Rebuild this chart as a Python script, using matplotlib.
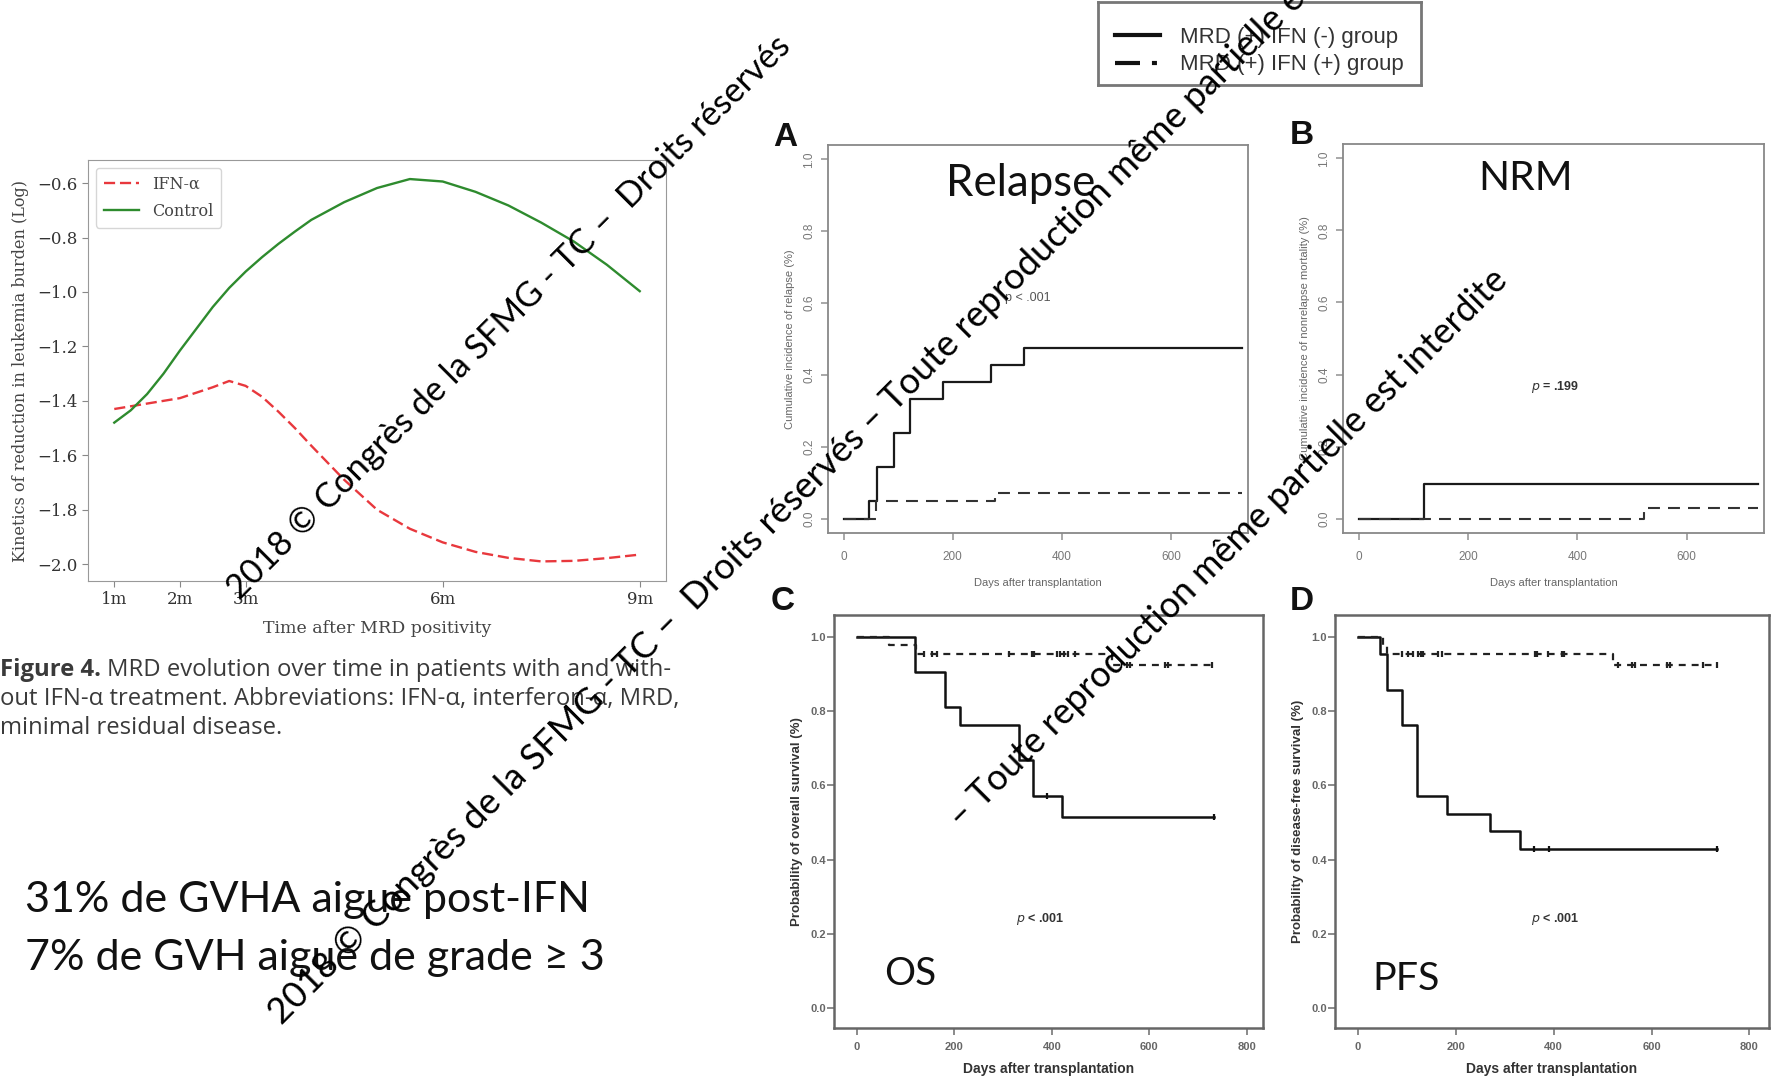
import numpy as np
import matplotlib
matplotlib.use("Agg")
import matplotlib.pyplot as plt
from matplotlib.lines import Line2D

plt.rcParams["lines.scale_dashes"] = False
plt.rcParams["font.family"] = ["Liberation Sans", "DejaVu Sans"]

# ---- left chart: MRD kinetics ----
months = [1.0, 1.25, 1.5, 1.75, 2.0, 2.25, 2.5, 2.75, 3.0, 3.25, 3.5, 3.75, 4.0,
          4.5, 5.0, 5.5, 6.0, 6.5, 7.0, 7.5, 8.0, 8.5, 9.0]
ifn_kinetics = [-1.43, -1.42, -1.41, -1.40, -1.39, -1.37, -1.35, -1.327, -1.345, -1.385,
                -1.44, -1.50, -1.565, -1.69, -1.80, -1.87, -1.92, -1.955, -1.977, -1.99,
                -1.988, -1.978, -1.965]
control_kinetics = [-1.48, -1.435, -1.375, -1.30, -1.215, -1.135, -1.055, -0.985, -0.925,
                    -0.872, -0.823, -0.778, -0.735, -0.67, -0.618, -0.585, -0.594, -0.632,
                    -0.682, -0.745, -0.815, -0.90, -0.997]
month_ticks = [1, 2, 3, 6, 9]
month_labels = ["1m", "2m", "3m", "6m", "9m"]
kin_ticks = [-2.0, -1.8, -1.6, -1.4, -1.2, -1.0, -0.8, -0.6]

# ---- Kaplan-Meier / cumulative incidence panels ----
# A: relapse
relapse_neg_t = [0, 47, 62, 93, 122, 183, 270, 330, 730]
relapse_neg_y = [0, 0.048, 0.143, 0.238, 0.333, 0.381, 0.429, 0.476, 0.476]
relapse_pos_t = [0, 60, 278, 730]
relapse_pos_y = [0, 0.048, 0.071, 0.071]
# B: non relapse mortality
nrm_neg_t = [0, 120, 730]
nrm_neg_y = [0, 0.095, 0.095]
nrm_pos_t = [0, 522, 730]
nrm_pos_y = [0, 0.03, 0.03]
# C: overall survival
os_neg_t = [0, 120, 181, 211, 332, 362, 420, 732]
os_neg_y = [1, 0.905, 0.810, 0.762, 0.667, 0.571, 0.514, 0.514]
os_neg_cens = [390, 732]
os_pos_t = [0, 65, 122, 523, 730]
os_pos_y = [1, 0.976, 0.952, 0.924, 0.924]
os_pos_cens = [137, 154, 164, 311, 359, 364, 410, 417, 425, 434, 448, 554, 561, 632, 639, 728]
# D: progression free survival
pfs_neg_t = [0, 44, 60, 89, 120, 181, 270, 331, 733]
pfs_neg_y = [1, 0.952, 0.857, 0.762, 0.571, 0.524, 0.476, 0.429, 0.429]
pfs_neg_cens = [360, 391, 733]
pfs_pos_t = [0, 52, 60, 522, 734]
pfs_pos_y = [1, 0.976, 0.952, 0.924, 0.924]
pfs_pos_cens = [89, 102, 113, 123, 128, 133, 164, 171, 362, 365, 389, 417, 422,
                532, 560, 567, 631, 638, 706, 734]

W, H = 1771, 1079
fig = plt.figure(figsize=(W / 100, H / 100), dpi=100)
renderer = fig.canvas.get_renderer()


def box(l, t, r, b):
    return [l / W, 1 - b / H, (r - l) / W, (b - t) / H]


def fx(x):
    return x / W


def fy(y):
    return 1 - y / H


def fit(txt, width):
    w = txt.get_window_extent(renderer).width
    txt.set_fontsize(txt.get_fontsize() * width / w)
    return txt.get_fontsize()


# ---------------- left chart ----------------
serif = "DejaVu Serif"
ax = fig.add_axes(box(88, 160, 666, 581))
ax.plot(months, ifn_kinetics, ls=(0, (8, 3.5)), color="#e8383d", lw=1.7, label="IFN-α")
ax.plot(months, control_kinetics, color="#2e8b2e", lw=1.7, label="Control")
ax.set_xlim(0.6, 9.4)
ax.set_ylim(-2.062, -0.515)
ax.set_xticks(month_ticks, month_labels, fontfamily=serif, fontsize=12, color="#333")
ax.set_yticks(kin_ticks, [f"{v:.1f}".replace("-", "\u2212") for v in kin_ticks],
              fontfamily=serif, fontsize=12, color="#333")
ax.tick_params(colors="#888", labelcolor="#333", length=4)
for s in ax.spines.values():
    s.set_color("#999")
ax.set_ylabel("Kinetics of reduction in leukemia burden (Log)", fontfamily=serif,
              fontsize=11.5, color="#444", labelpad=6)
ax.set_xlabel("Time after MRD positivity", fontfamily=serif, fontsize=12.5, color="#444",
              labelpad=8)
leg = ax.legend(loc="upper left", prop={"family": serif, "size": 11.5}, handlelength=2.2,
                borderpad=0.5, labelspacing=0.6)
leg.get_frame().set_edgecolor("#ccc")
for t in leg.get_texts():
    t.set_color("#444")

# caption
cap_lines = ["MRD evolution over time in patients with and with-",
             "out IFN-\u03b1 treatment. Abbreviations: IFN-\u03b1, interferon-\u03b1, MRD,",
             "minimal residual disease."]
c2 = fig.text(0, fy(699), cap_lines[1], fontfamily="Open Sans", fontsize=14, color="#3a3a3a",
              va="center", ha="left")
cap_size = fit(c2, 682)
c1b = fig.text(0, fy(670), "Figure 4.", fontfamily="Open Sans", fontweight="bold",
               fontsize=cap_size, color="#3a3a3a", va="center", ha="left")
bw = c1b.get_window_extent(renderer).width
fig.text(fx(bw + 6), fy(670), cap_lines[0], fontfamily="Open Sans", fontsize=cap_size,
         color="#3a3a3a", va="center", ha="left")
fig.text(0, fy(728), cap_lines[2], fontfamily="Open Sans", fontsize=cap_size, color="#3a3a3a",
         va="center", ha="left")

# bottom statements
calibri = ["Lato", "DejaVu Sans"]
b1 = fig.text(fx(25), fy(900), "31% de GVHA aigue post-IFN", fontfamily=calibri, fontsize=28,
              color="#111", va="center", ha="left")
bsize = fit(b1, 566)
fig.text(fx(25), fy(958), "7% de GVH aigue de grade \u2265 3", fontfamily=calibri,
         fontsize=bsize, color="#111", va="center", ha="left")


# ---------------- KM panels ----------------
def censor_y(t, y, ct):
    idx = np.searchsorted(t, ct, side="right") - 1
    return np.asarray(y)[idx]


def r_panel(rect, ylabel):
    a = fig.add_axes(rect)
    a.set_xlim(-28.5, 741.5)
    a.set_ylim(-0.04, 1.04)
    a.set_xticks([0, 200, 400, 600], ["0", "200", "400", "600"], fontsize=8.5, color="#777")
    yt = [0, 0.2, 0.4, 0.6, 0.8, 1.0]
    a.set_yticks(yt, [f"{v:.1f}" for v in yt], fontsize=8.5, color="#777", rotation=90,
                 va="center")
    a.tick_params(colors="#999", labelcolor="#777", length=5, width=1.2, pad=4)
    a.tick_params(axis="x", pad=8)
    for s in a.spines.values():
        s.set_color("#888")
        s.set_linewidth(1.3)
    a.set_ylabel(ylabel, fontsize=8, color="#666", labelpad=6)
    a.set_xlabel("Days after transplantation", fontsize=8, color="#666", labelpad=11)
    return a


def spss_panel(rect, ylabel, xmax):
    a = fig.add_axes(rect)
    a.set_xlim(-47, xmax)
    a.set_ylim(-0.053, 1.058)
    a.set_xticks([0, 200, 400, 600, 800], ["0", "200", "400", "600", "800"], fontsize=8,
                 fontweight="bold", color="#666")
    yt = [0, 0.2, 0.4, 0.6, 0.8, 1.0]
    a.set_yticks(yt, [f"{v:.1f}" for v in yt], fontsize=8, fontweight="bold", color="#666")
    a.tick_params(colors="#777", labelcolor="#666", length=5, width=1.2, pad=1)
    a.tick_params(axis="x", pad=5)
    for s in a.spines.values():
        s.set_color("#666")
        s.set_linewidth(1.8)
    a.set_ylabel(ylabel, fontsize=9.5, fontweight="bold", color="#333", labelpad=5)
    a.set_xlabel("Days after transplantation", fontsize=10, fontweight="bold", color="#333",
                 labelpad=7)
    return a


axA = r_panel(box(828, 145, 1248, 533), "Cumulative incidence of relapse (%)")
axA.step(relapse_neg_t, relapse_neg_y, where="post", color="#1a1a1a", lw=1.6)
axA.step(relapse_pos_t, relapse_pos_y, where="post", color="#333", lw=1.5, ls=(0, (8.6, 5.8)))
axA.text(337, 0.613, "p < .001", fontsize=9, color="#555", ha="center", va="center")

axB = r_panel(box(1343, 144, 1764, 533), "Cumulative incidence of nonrelapse mortality (%)")
axB.step(nrm_neg_t, nrm_neg_y, where="post", color="#1a1a1a", lw=1.6)
axB.step(nrm_pos_t, nrm_pos_y, where="post", color="#333", lw=1.5, ls=(0, (8.6, 5.8)))
axB.text(360, 0.365, "$p$ = .199", fontsize=9, color="#333", fontweight="bold",
         ha="center", va="center")

axC = spss_panel(box(834, 615, 1263, 1028), "Probability of overall survival (%)", 833)
axC.step(os_neg_t, os_neg_y, where="post", color="#111", lw=1.8)
axC.plot(os_neg_cens, censor_y(os_neg_t, os_neg_y, os_neg_cens), ls="none", marker="|",
         ms=5, mew=1.6, color="#111")
axC.step(os_pos_t, os_pos_y, where="post", color="#222", lw=1.6, ls=(0, (5, 4.3)))
axC.plot(os_pos_cens, censor_y(os_pos_t, os_pos_y, os_pos_cens), ls="none", marker="|",
         ms=5, mew=1.6, color="#222")
axC.text(375, 0.24, "$p$ < .001", fontsize=9, fontweight="bold", color="#333",
         ha="center", va="center")

axD = spss_panel(box(1335, 615, 1769, 1028), "Probability of disease-free survival (%)", 840)
axD.step(pfs_neg_t, pfs_neg_y, where="post", color="#111", lw=1.8)
axD.plot(pfs_neg_cens, censor_y(pfs_neg_t, pfs_neg_y, pfs_neg_cens), ls="none", marker="|",
         ms=5, mew=1.6, color="#111")
axD.step(pfs_pos_t, pfs_pos_y, where="post", color="#222", lw=1.6, ls=(0, (5, 4.3)))
axD.plot(pfs_pos_cens, censor_y(pfs_pos_t, pfs_pos_y, pfs_pos_cens), ls="none", marker="|",
         ms=5, mew=1.6, color="#222")
axD.text(403, 0.24, "$p$ < .001", fontsize=9, fontweight="bold", color="#333",
         ha="center", va="center")

# panel letters
for letter, (x, y) in zip("ABCD", [(785, 138), (1302, 136), (783, 601), (1302, 601)]):
    fig.text(fx(x), fy(y), letter, fontsize=24, fontweight="bold", color="#111",
             ha="center", va="center")

# big panel titles
for s, (x, y), wpx in zip(["Relapse", "NRM", "OS", "PFS"],
                          [(1021, 183), (1526, 178), (910, 974), (1406, 979)],
                          [149, 94, 52, 67]):
    t = fig.text(fx(x), fy(y), s, fontfamily=calibri, fontsize=30, color="#111",
                 ha="center", va="center")
    fit(t, wpx)

# group legend box
axL = fig.add_axes(box(1098, 2, 1421, 85))
axL.set_xticks([])
axL.set_yticks([])
for s in axL.spines.values():
    s.set_color("#777")
    s.set_linewidth(2)
handles = [Line2D([], [], color="#111", lw=3),
           Line2D([], [], color="#111", lw=3, ls=(0, (18, 8.6, 3.6, 20)))]
lg = axL.legend(handles, ["MRD (+) IFN (-) group", "MRD (+) IFN (+) group"], loc="center",
                bbox_to_anchor=(0.5, 0.41), frameon=False, fontsize=16, handlelength=2.0,
                handletextpad=0.9, labelspacing=0.3)
for t in lg.get_texts():
    t.set_color("#333")

# watermarks
wm_a = "2018 \u00a9 Congr\u00e8s de la SFMG - TC \u2013  Droits r\u00e9serv\u00e9s"
wm_c = "\u2013 Toute reproduction m\u00eame partielle est interdite"
wm1 = fig.text(fx(240), fy(601), wm_a, fontfamily=calibri, fontsize=22, color="#000",
               ha="left", va="baseline", rotation_mode="anchor", zorder=20)
wsize = fit(wm1, 779)
wm1.set_rotation(45)
fig.text(fx(282), fy(1026), wm_a + " " + wm_c, fontfamily=calibri, fontsize=wsize * 1.06,
         color="#000", ha="left", va="baseline", rotation=45, rotation_mode="anchor",
         zorder=20)
fig.text(fx(962), fy(830), wm_c, fontfamily=calibri, fontsize=wsize * 1.04, color="#000",
         ha="left", va="baseline", rotation=45, rotation_mode="anchor", zorder=20)

fig.savefig("out.png", dpi=100, facecolor="white")
